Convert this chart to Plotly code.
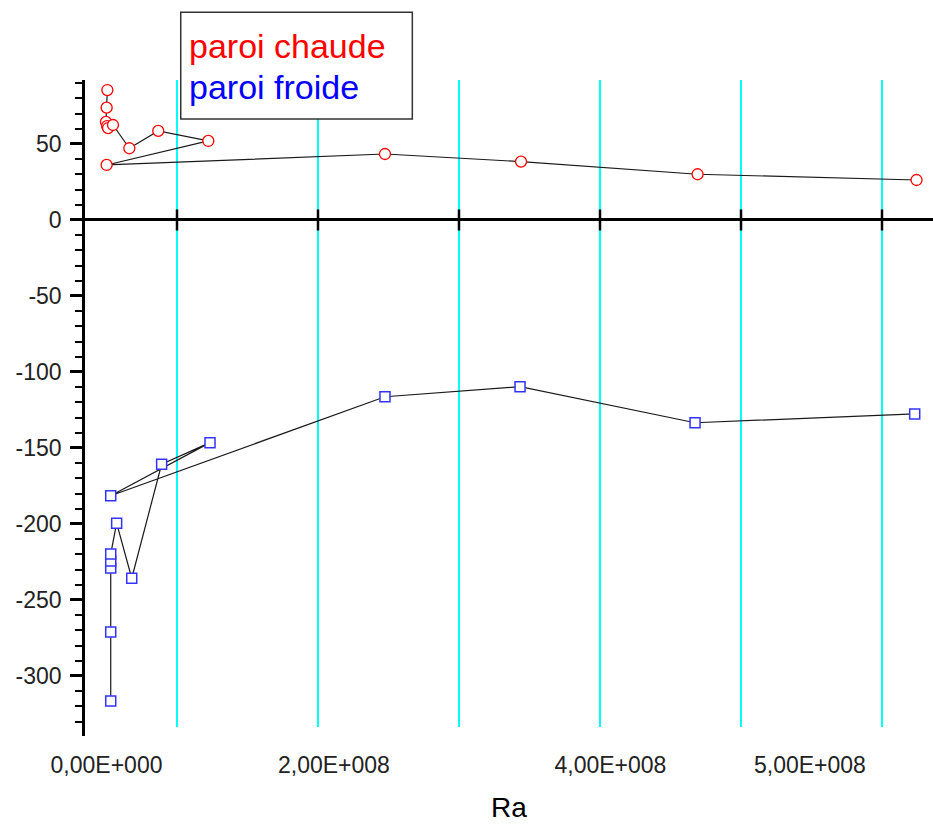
import plotly.graph_objects as go

# ---- data (Ra in units of 1e8 on the axis scale) ----
RA_CHAUDE = [0.506, 0.501, 0.496, 0.504, 0.511, 0.546, 0.662, 0.867, 1.222, 0.501, 2.475, 3.440, 4.692, 6.245]
NU_CHAUDE = [85.5, 73.9, 64.5, 61.8, 60.5, 62.5, 47.2, 58.6, 52.0, 36.2, 43.4, 38.4, 30.1, 26.3]

RA_FROIDE = [0.530, 0.530, 0.530, 0.530, 0.530, 0.572, 0.679, 0.891, 1.234, 0.530, 2.475, 3.433, 4.674, 6.232]
NU_FROIDE = [-316.4, -271.1, -228.9, -224.3, -219.7, -199.5, -235.7, -160.7, -146.5, -181.4, -116.3, -109.7, -133.4, -127.6]

SCALE = 1e8
GRID_RA = [1, 2, 3, 4, 5, 6]                       # cyan grid lines / ticks on y=0
XTICK_VALS = [0.500, 2.113, 4.074, 5.489]
XTICK_TEXT = ["0,00E+000", "2,00E+008", "4,00E+008", "5,00E+008"]
YTICK_VALS = [-300, -250, -200, -150, -100, -50, 0, 50]
YTICK_TEXT = ["-300", "-250", "-200", "-150", "-100", "-50", "0", "50"]
X_RANGE = [0.3475, 6.3617]
Y_RANGE = [-339.5, 92.1]
LEGEND = [("paroi chaude", "#ff0000"), ("paroi froide", "#0000ff")]

FONT = "Liberation Sans, Arial, sans-serif"

fig = go.Figure()

fig.add_trace(go.Scatter(
    x=[v * SCALE for v in RA_CHAUDE], y=NU_CHAUDE, mode="lines+markers",
    line=dict(color="#1a1a1a", width=1.2),
    marker=dict(symbol="circle", size=11, color="white",
                line=dict(color="#ff0000", width=1.3)),
    name=LEGEND[0][0], showlegend=False, hoverinfo="x+y"))

fig.add_trace(go.Scatter(
    x=[v * SCALE for v in RA_FROIDE], y=NU_FROIDE, mode="lines+markers",
    line=dict(color="#1a1a1a", width=1.2),
    marker=dict(symbol="square", size=10, color="white",
                line=dict(color="#3333ff", width=1.5)),
    name=LEGEND[1][0], showlegend=False, hoverinfo="x+y"))

# tick marks crossing the y=0 axis line
fig.add_trace(go.Scatter(
    x=[g * SCALE for g in GRID_RA], y=[0] * len(GRID_RA), mode="markers",
    marker=dict(symbol="line-ns", size=15, line=dict(color="black", width=2.5)),
    showlegend=False, hoverinfo="skip"))

# cyan vertical grid lines
for g in GRID_RA:
    fig.add_shape(type="line", xref="x", yref="paper",
                  x0=g * SCALE, x1=g * SCALE, y0=0.0137, y1=1,
                  line=dict(color="#00ffff", width=2), layer="below")

# legend box
fig.add_shape(type="rect", xref="paper", yref="paper",
              x0=0.1129, x1=0.386, y0=0.9405, y1=1.1032,
              fillcolor="white", line=dict(color="#333333", width=1.5), layer="above")
for i, (txt, col) in enumerate(LEGEND):
    fig.add_annotation(xref="paper", yref="paper", x=0.1203,
                       y=1.0511 - i * 0.0618, xanchor="left", yanchor="middle",
                       text=txt, showarrow=False,
                       font=dict(family=FONT, size=34, color=col))

fig.update_layout(
    width=933, height=826,
    margin=dict(l=85, r=0, t=80, b=90),
    paper_bgcolor="white", plot_bgcolor="white",
    font=dict(family=FONT, size=23, color="#222222"),
    xaxis=dict(range=[X_RANGE[0] * SCALE, X_RANGE[1] * SCALE],
               showgrid=False, zeroline=False, showline=False, ticks="",
               tickvals=[v * SCALE for v in XTICK_VALS], ticktext=XTICK_TEXT,
               ticklabelstandoff=13,
               tickfont=dict(family=FONT, size=23, color="#222222"),
               title=dict(text="Ra", standoff=20,
                          font=dict(family=FONT, size=28, color="black"))),
    yaxis=dict(range=Y_RANGE, showgrid=False,
               zeroline=True, zerolinecolor="black", zerolinewidth=2.5,
               showline=True, linecolor="black", linewidth=2.5,
               ticks="outside", ticklen=12, tickwidth=2.5, tickcolor="black",
               tickvals=YTICK_VALS, ticktext=YTICK_TEXT,
               ticklabelstandoff=4,
               tickfont=dict(family=FONT, size=23, color="#222222"),
               minor=dict(dtick=10, ticks="outside", ticklen=7, tickwidth=2,
                          tickcolor="black")),
)

fig.write_html("out.html")
